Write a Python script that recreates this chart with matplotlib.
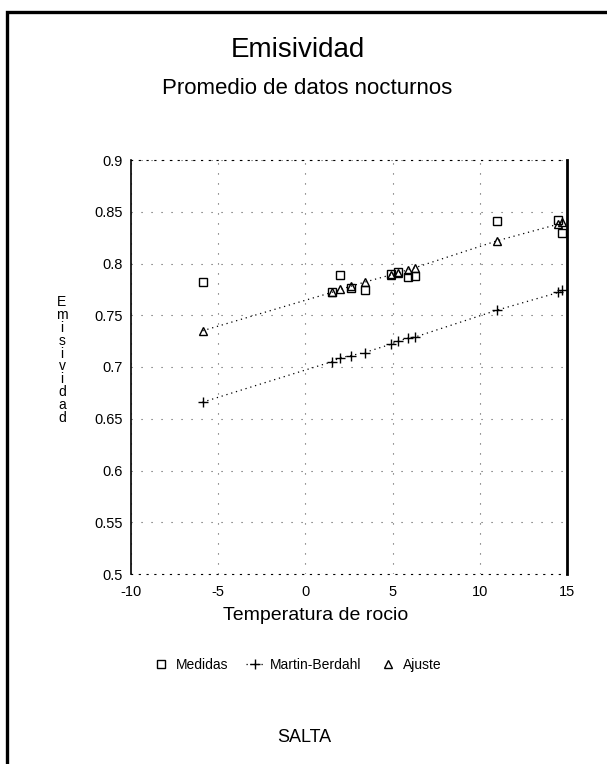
import matplotlib
matplotlib.use("Agg")
import matplotlib.pyplot as plt
from matplotlib.patches import Rectangle
from matplotlib.lines import Line2D

plt.rcParams['font.family'] = ['Liberation Sans', 'DejaVu Sans']

# Data
td = [-5.9, 1.5, 2.0, 2.6, 3.4, 4.9, 5.3, 5.9, 6.3, 11.0, 14.5, 14.7]
medidas = [0.782, 0.772, 0.789, 0.776, 0.774, 0.790, 0.792, 0.787, 0.788, 0.841, 0.842, 0.829]
martin_berdahl = [0.666, 0.705, 0.709, 0.711, 0.714, 0.722, 0.725, 0.728, 0.729, 0.755, 0.772, 0.774]
ajuste = [0.735, 0.772, 0.775, 0.778, 0.782, 0.789, 0.791, 0.794, 0.796, 0.822, 0.838, 0.840]

xticks = [-10, -5, 0, 5, 10, 15]
yticks = [0.5, 0.55, 0.6, 0.65, 0.7, 0.75, 0.8, 0.85, 0.9]
ytick_labels = ['0.5', '0.55', '0.6', '0.65', '0.7', '0.75', '0.8', '0.85', '0.9']

W, H = 607, 764
fig = plt.figure(figsize=(W / 100, H / 100), dpi=100)
fig.patch.set_facecolor('white')

ax = fig.add_axes([131 / W, 1 - 574 / H, (567 - 131) / W, (574 - 160) / H])
ax.set_xlim(-10, 15)
ax.set_ylim(0.5, 0.9)
ax.set_xticks(xticks)
ax.set_xticklabels([str(t) for t in xticks])
ax.set_yticks(yticks)
ax.set_yticklabels(ytick_labels)
ax.tick_params(axis='both', length=0, labelsize=10.5, colors='black')
ax.tick_params(axis='y', pad=6)
ax.tick_params(axis='x', pad=8)

ax.grid(True, color='#555555', linestyle=(0, (1, 8)), linewidth=0.8)
ax.set_axisbelow(True)

ax.spines['left'].set_linewidth(1.2)
ax.spines['right'].set_linewidth(2.0)
ax.spines['top'].set_linestyle((0, (1, 6)))
ax.spines['top'].set_linewidth(0.8)
ax.spines['bottom'].set_linestyle((0, (1, 6)))
ax.spines['bottom'].set_linewidth(0.8)

ax.plot(td, martin_berdahl, linestyle=(0, (1, 3)), color='black', linewidth=0.9,
        marker='+', markersize=7, markeredgewidth=1.0)
ax.plot(td, ajuste, linestyle=(0, (1, 3)), color='black', linewidth=0.9,
        marker='^', markersize=6, markerfacecolor='none', markeredgewidth=1.0)
ax.plot(td, medidas, linestyle='none', color='black',
        marker='s', markersize=6, markerfacecolor='none', markeredgewidth=1.0)

# Titles
fig.text(298 / W, 1 - 50 / H, 'Emisividad', ha='center', va='center', fontsize=20)
fig.text(307 / W, 1 - 88 / H, 'Promedio de datos nocturnos', ha='center', va='center', fontsize=16)

# Axis labels
fig.text(316 / W, 1 - 615 / H, 'Temperatura de rocio', ha='center', va='center', fontsize=14)
fig.text(62 / W, 1 - 360 / H, '\n'.join('Emisividad'), ha='center', va='center',
         fontsize=10, linespacing=0.9)

# Legend
handles = [
    Line2D([], [], linestyle='none', color='black', marker='s', markersize=6,
           markerfacecolor='none', markeredgewidth=1.0),
    Line2D([], [], linestyle=(0, (1, 2)), color='black', linewidth=0.9, marker='+',
           markersize=7, markeredgewidth=1.0),
    Line2D([], [], linestyle='none', color='black', marker='^', markersize=6,
           markerfacecolor='none', markeredgewidth=1.0),
]
fig.legend(handles, ['Medidas', 'Martin-Berdahl', 'Ajuste'], loc='center',
           bbox_to_anchor=(297 / W, 1 - 665 / H), ncol=3, frameon=False,
           fontsize=10, handlelength=1.2, handletextpad=0.5, columnspacing=1.3)

fig.text(304 / W, 1 - 738 / H, 'SALTA', ha='center', va='center', fontsize=13)

# Page border (top and left edges visible)
fig.add_artist(Rectangle((7 / W, -0.1), 1.2, (1 - 12 / H) + 0.1, transform=fig.transFigure,
                         fill=False, linewidth=2.4, edgecolor='black'))

fig.savefig('out.png', dpi=100)
